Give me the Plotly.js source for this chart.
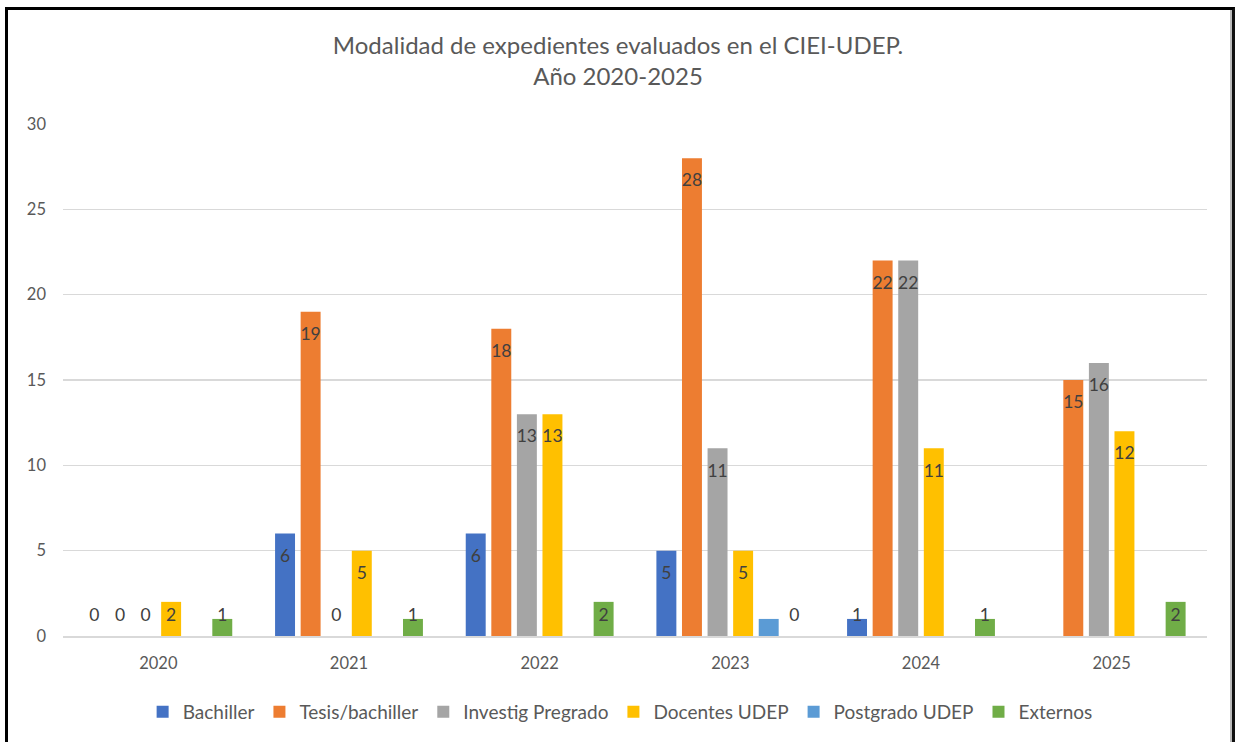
<!DOCTYPE html>
<html>
<head>
<meta charset="utf-8">
<script src="https://cdn.plot.ly/plotly-3.0.1.min.js"></script>
<style>
  html, body { margin: 0; padding: 0; background: #fff; }
  #wrap { position: relative; width: 1236px; height: 742px; overflow: hidden; }
  #chart { width: 1236px; height: 742px; }
  #frame { position: absolute; left: 5px; top: 7px; width: 1224px; height: 800px;
           border-top: 3px solid #000; border-left: 3px solid #000; border-right: 3px solid #111;
           box-shadow: inset -2px 0 0 #bbb; pointer-events: none; }
</style>
</head>
<body>
<div id="wrap">
  <div id="chart"></div>
  <div id="frame"></div>
</div>
<script>
const years = ['2020', '2021', '2022', '2023', '2024', '2025'];
const seriesNames = ['Bachiller', 'Tesis/bachiller', 'Investig Pregrado', 'Docentes UDEP', 'Postgrado UDEP', 'Externos'];
const colors = ['#4472C4', '#ED7D31', '#A5A5A5', '#FFC000', '#5B9BD5', '#70AD47'];

const bachiller  = [0, 6, 6, 5, 1, null];
const tesis      = [0, 19, 18, 28, 22, 15];
const investig   = [0, 0, 13, 11, 22, 16];
const docentes   = [2, 5, 13, 5, 11, 12];
const postgrado  = [null, null, null, 1, null, null];
const externos   = [1, 1, 2, 0, 1, 2];
// Which series carry a visible data label (Postgrado's label is not shown)
const showLabel  = [true, true, true, true, false, true];

const seriesValues = [bachiller, tesis, investig, docentes, postgrado, externos];

const FONT = 'Lato, "Open Sans", "DejaVu Sans", sans-serif';
const GAP = 0.195;

const traces = [];
seriesValues.forEach((vals, i) => {
  traces.push({
    type: 'bar', name: seriesNames[i], x: years, y: vals,
    marker: { color: colors[i], line: { width: 0 } },
    hoverinfo: 'x+y+name'
  });
});
// data labels: inside end, kept above the baseline for short bars
seriesValues.forEach((vals, i) => {
  traces.push({
    type: 'scatter', mode: 'text', showlegend: false, hoverinfo: 'skip',
    x: years,
    y: vals.map(v => (v === null ? null : Math.max(v - 1.4, 1.15))),
    text: vals.map(v => (v === null || !showLabel[i] ? '' : String(v))),
    textposition: 'middle center',
    textfont: { family: FONT, size: 17.5, color: '#404040' },
    cliponaxis: false
  });
});

const layout = {
  width: 1236, height: 742,
  paper_bgcolor: '#fff', plot_bgcolor: '#fff',
  margin: { l: 63, r: 29, t: 124, b: 105 },
  font: { family: FONT, color: '#595959' },
  title: {
    text: 'Modalidad de expedientes evaluados en el CIEI-UDEP.<br>Año 2020-2025',
    x: 0.5, xref: 'container', xanchor: 'center',
    y: 1 - 54 / 742, yref: 'container', yanchor: 'top',
    font: { family: FONT, size: 24, color: '#595959' }
  },
  barmode: 'group', bargap: GAP, bargroupgap: 0.22,
  scattermode: 'group', scattergap: GAP,
  xaxis: {
    type: 'category', tickfont: { size: 16.5, color: '#595959' },
    showline: true, linecolor: '#D9D9D9', linewidth: 1.5,
    showgrid: false, ticks: '', ticklabelstandoff: 12, fixedrange: true
  },
  yaxis: {
    range: [0, 30], dtick: 5, tickfont: { size: 16.5, color: '#595959' },
    showgrid: true, gridcolor: '#D9D9D9', gridwidth: 1.5,
    zeroline: false, showline: false, ticks: '', ticklabelstandoff: 16, fixedrange: true
  },
  legend: {
    orientation: 'h', x: 0.487, xanchor: 'center', xref: 'paper',
    y: -(712 - 637) / 513, yanchor: 'middle',
    font: { family: FONT, size: 19, color: '#595959' },
    itemwidth: 30, tracegroupgap: 0, itemclick: false, itemdoubleclick: false
  },
  showlegend: true
};

Plotly.newPlot('chart', traces, layout, { displayModeBar: false, staticPlot: true });
</script>
</body>
</html>
